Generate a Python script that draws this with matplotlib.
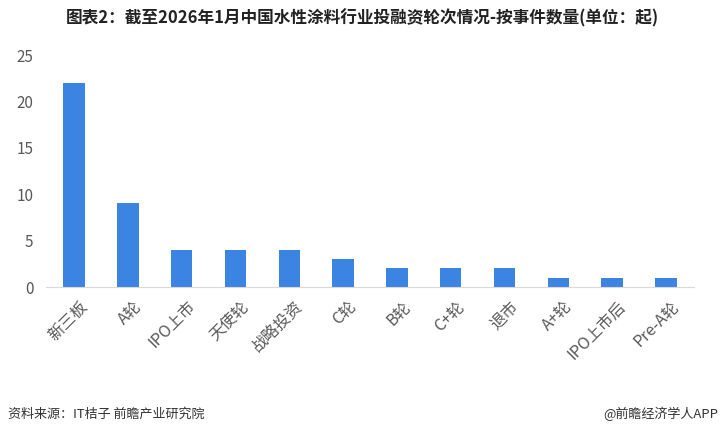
import matplotlib.pyplot as plt
from matplotlib.transforms import ScaledTranslation

plt.rcParams['font.family'] = ['Noto Sans CJK SC', 'DejaVu Sans']

# Data
rounds = ["新三板", "A轮", "IPO上市", "天使轮", "战略投资", "C轮", "B轮",
          "C+轮", "退市", "A+轮", "IPO上市后", "Pre-A轮"]
counts = [22, 9, 4, 4, 4, 3, 2, 2, 2, 1, 1, 1]
yticks = [0, 5, 10, 15, 20, 25]

fig = plt.figure(figsize=(7.24, 4.36), dpi=100)
ax = fig.add_axes([46 / 724, 1 - 287 / 436, 648 / 724, 232 / 436])

x = range(len(rounds))
ax.bar(x, counts, width=0.4, color="#3b84e1", zorder=2)

ax.set_xlim(-0.52, len(rounds) - 0.48)
ax.set_ylim(0, 25)
ax.set_yticks(yticks)
ax.set_xticks(list(x))
ax.set_xticklabels(rounds, rotation=45, ha="right", rotation_mode="anchor",
                   fontsize=11.5, color="#595959")
ax.tick_params(axis="y", labelsize=11, labelcolor="#595959", length=0, pad=9)
ax.tick_params(axis="x", length=0, pad=8)

# nudge rotated labels slightly right, like the original
shift = ScaledTranslation(5 / 100, 0, fig.dpi_scale_trans)
for lbl in ax.get_xticklabels():
    lbl.set_transform(lbl.get_transform() + shift)

for side in ["top", "right", "left"]:
    ax.spines[side].set_visible(False)
ax.spines["bottom"].set_color("#d9d9d9")

fig.text(0.5, 1 - 18 / 436, "图表2：截至2026年1月中国水性涂料行业投融资轮次情况-按事件数量(单位：起)",
         ha="center", va="center", fontsize=12, fontweight="bold", color="#222222")
fig.text(8 / 724, 1 - 414 / 436, "资料来源：IT桔子 前瞻产业研究院",
         ha="left", va="center", fontsize=9.4, color="#333333")
fig.text(1 - 6 / 724, 1 - 414 / 436, "@前瞻经济学人APP",
         ha="right", va="center", fontsize=9.4, color="#333333")

fig.savefig("out.png", dpi=100)
plt.close(fig)
